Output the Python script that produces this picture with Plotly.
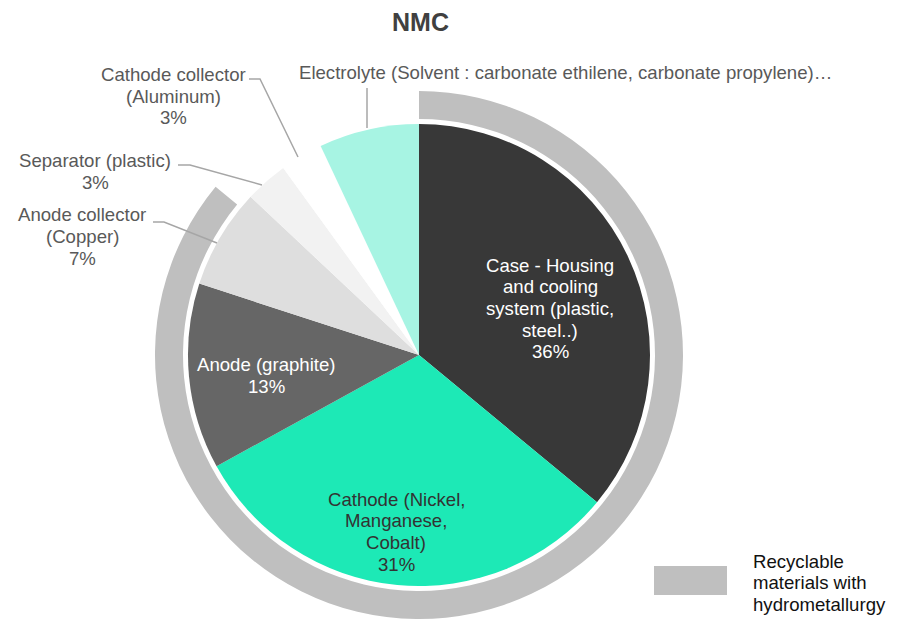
import plotly.graph_objects as go

W, H = 897, 619

# ---------------- data ----------------
title_text = "NMC"
components = [
    "Case - Housing and cooling system (plastic, steel..)",
    "Cathode (Nickel, Manganese, Cobalt)",
    "Anode (graphite)",
    "Anode collector (Copper)",
    "Separator (plastic)",
    "Cathode collector (Aluminum)",
    "Electrolyte (Solvent : carbonate ethilene, carbonate propylene)…",
]
shares = [36, 31, 13, 7, 3, 3, 7]
label_lines = [
    ["Case - Housing", "and cooling", "system (plastic,", "steel..)"],
    ["Cathode (Nickel,", "Manganese,", "Cobalt)"],
    ["Anode (graphite)"],
    ["Anode collector", "(Copper)"],
    ["Separator (plastic)"],
    ["Cathode collector", "(Aluminum)"],
    ["Electrolyte (Solvent : carbonate ethilene, carbonate propylene)…"],
]
show_pct = [True, True, True, True, True, True, False]

ring_labels = ["Recyclable materials with hydrometallurgy", "Other"]
ring_values = [86, 14]
legend_lines = ["Recyclable", "materials with", "hydrometallurgy"]

# ---------------- styles / layout ----------------
slice_colors = ["#383838", "#1de9b6", "#666666", "#dedede", "#f2f2f2", "#ffffff", "#a7f4e3"]
ring_colors = ["#bfbfbf", "rgba(0,0,0,0)"]
label_colors = ["#ffffff", "#333333", "#ffffff", "#595959", "#595959", "#595959", "#595959"]
label_pos = [(550, 265), (396, 499), (266, 364.5), (82, 215), (95, 160.3), (173, 74.5), (565.5, 72)]
line_gap = 21.7
FONT = "Arial, Liberation Sans, sans-serif"
FS = 18.6

cx, cy = 419, 355
r_pie = 231
r_ring = 264
ring_hole = 236 / 264


def px(x):
    return x / W


def py(y):
    return 1 - y / H


fig = go.Figure()

fig.add_trace(go.Pie(
    labels=ring_labels, values=ring_values,
    marker=dict(colors=ring_colors, line=dict(width=0)),
    hole=ring_hole, sort=False, direction="clockwise", rotation=0,
    textinfo="none", hoverinfo="skip", showlegend=False,
    domain=dict(x=[px(cx - r_ring), px(cx + r_ring)], y=[max(0, py(cy + r_ring)), py(cy - r_ring)]),
))

fig.add_trace(go.Pie(
    labels=components, values=shares,
    marker=dict(colors=slice_colors, line=dict(width=0)),
    sort=False, direction="clockwise", rotation=0,
    textinfo="none", hoverinfo="skip", showlegend=False,
    domain=dict(x=[px(cx - r_pie), px(cx + r_pie)], y=[py(cy + r_pie), py(cy - r_pie)]),
))

annotations = []
for lines, val, pct, (lx, ly), col in zip(label_lines, shares, show_pct, label_pos, label_colors):
    all_lines = list(lines) + ([f"{val}%"] if pct else [])
    for i, t in enumerate(all_lines):
        annotations.append(dict(
            text=t, x=px(lx), y=py(ly + i * line_gap), xref="paper", yref="paper",
            xanchor="center", yanchor="middle", showarrow=False,
            font=dict(family=FONT, size=FS, color=col),
        ))

# title
annotations.append(dict(
    text=f"<b>{title_text}</b>", x=px(420), y=py(22), xref="paper", yref="paper",
    xanchor="center", yanchor="middle", showarrow=False,
    font=dict(family=FONT, size=25, color="#404040"),
))

# legend text
for i, t in enumerate(legend_lines):
    annotations.append(dict(
        text=t, x=px(751), y=py(561 + i * line_gap), xref="paper", yref="paper",
        xanchor="left", yanchor="middle", showarrow=False,
        font=dict(family=FONT, size=FS, color="#111111"),
    ))

leaders = [
    [(249, 79), (260, 79), (298, 157)],
    [(178, 165), (190, 165), (262, 185)],
    [(153, 222), (164, 222), (217, 243)],
    [(367, 88), (367, 128)],
]
shapes = []
for pts in leaders:
    path = "M " + " L ".join(f"{px(x)},{py(y)}" for x, y in pts)
    shapes.append(dict(type="path", path=path, xref="paper", yref="paper",
                       line=dict(color="#a6a6a6", width=1.5)))

# legend key
shapes.append(dict(type="rect", xref="paper", yref="paper",
                   x0=px(654), x1=px(727), y0=py(595), y1=py(566),
                   fillcolor="#bfbfbf", line=dict(width=0)))

fig.update_layout(
    width=W, height=H,
    margin=dict(l=0, r=0, t=0, b=0),
    paper_bgcolor="white", plot_bgcolor="white",
    showlegend=False,
    annotations=annotations, shapes=shapes,
)

fig.write_html("out.html", config={"displayModeBar": False},
               post_script="document.body.style.margin='0';document.body.style.overflow='hidden';")
